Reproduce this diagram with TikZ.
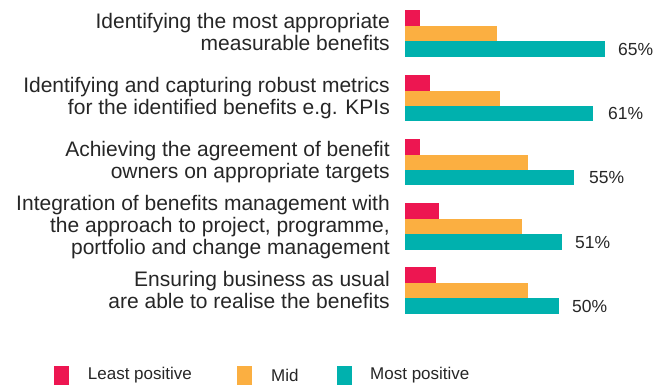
\documentclass[tikz,border=0pt]{standalone}
\usepackage{fontspec}
\setmainfont{Liberation Sans}
\definecolor{leastc}{HTML}{ED1651}
\definecolor{midc}{HTML}{FBAF41}
\definecolor{mostc}{HTML}{00B1AE}
\definecolor{txtc}{HTML}{262626}
\begin{document}
\begin{tikzpicture}[x=1pt,y=-1pt,
  lbl/.style={anchor=base east,inner sep=0pt,align=right,text=txtc,font=\fontsize{21}{22}\selectfont},
  pct/.style={anchor=west,inner sep=0pt,text=txtc,font=\fontsize{17.5}{20}\selectfont},
  leg/.style={anchor=west,inner sep=0pt,text=txtc,font=\fontsize{17}{20}\selectfont},
  leastbar/.style={fill=leastc},
  midbar/.style={fill=midc},
  mostbar/.style={fill=mostc}]
\useasboundingbox (0,0) rectangle (654,388);
% labels (anchor at the baseline of the last line)
\node[lbl] (l1) at (390,50) {Identifying the most appropriate\\measurable benefits};
\node[lbl] (l2) at (390,114.5) {Identifying and capturing robust metrics\\for the identified benefits e.g. KPIs};
\node[lbl] (l3) at (390,178) {Achieving the agreement of benefit\\owners on appropriate targets};
\node[lbl] (l4) at (390,254) {Integration of benefits management with\\the approach to project, programme,\\portfolio and change management};
\node[lbl] (l5) at (390,308.5) {Ensuring business as usual\\are able to realise the benefits};
% bars: group 1
\fill[leastbar] (404.5,10) rectangle (420,25.6);
\fill[midbar] (404.5,25.6) rectangle (497,41.2);
\fill[mostbar] (404.5,41.2) rectangle (605,56.8);
% group 2
\fill[leastbar] (404.5,75) rectangle (430,90.6);
\fill[midbar] (404.5,90.6) rectangle (500,106.2);
\fill[mostbar] (404.5,106.2) rectangle (593,121.4);
% group 3
\fill[leastbar] (404.5,139) rectangle (420,154.6);
\fill[midbar] (404.5,154.6) rectangle (528,170);
\fill[mostbar] (404.5,170) rectangle (574,185.4);
% group 4
\fill[leastbar] (404.5,203) rectangle (439,218.8);
\fill[midbar] (404.5,218.8) rectangle (522,234.2);
\fill[mostbar] (404.5,234.2) rectangle (562,250);
% group 5
\fill[leastbar] (404.5,267) rectangle (436,282.8);
\fill[midbar] (404.5,282.8) rectangle (528,298.2);
\fill[mostbar] (404.5,298.2) rectangle (559,314);
% percentages
\node[pct] (p1) at (618,49) {65\%};
\node[pct] (p2) at (608,113.8) {61\%};
\node[pct] (p3) at (589,177.7) {55\%};
\node[pct] (p4) at (575,242.1) {51\%};
\node[pct] (p5) at (572,306.1) {50\%};
% legend
\fill[leastbar] (53.7,366) rectangle (68.7,384.7);
\node[leg] (g1) at (87.7,375.5) {Least positive};
\fill[midbar] (236.7,366) rectangle (251.7,384.7);
\node[leg] (g2) at (271,375.5) {Mid};
\fill[mostbar] (336.7,366) rectangle (351.7,384.7);
\node[leg] (g3) at (370,375.5) {Most positive};
\end{tikzpicture}
\end{document}
